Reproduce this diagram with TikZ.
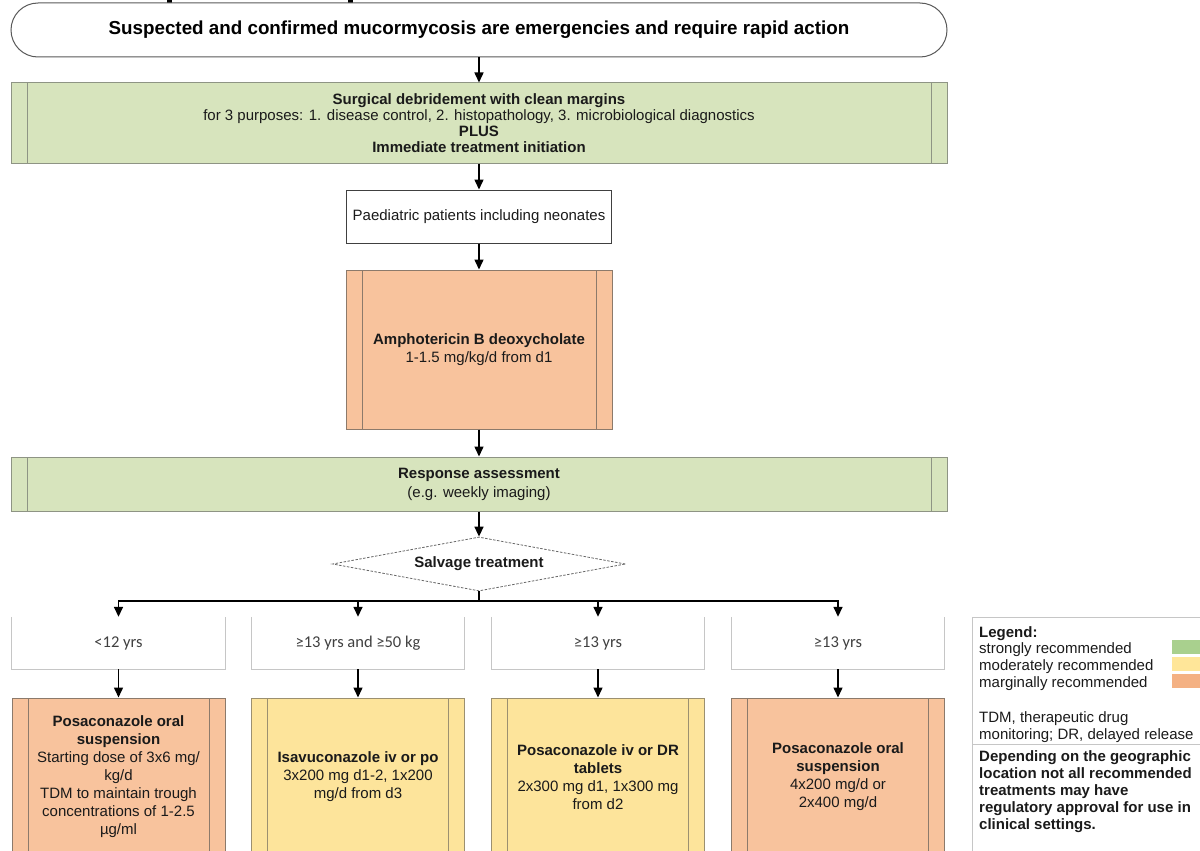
\documentclass[tikz,border=0pt]{standalone}
\usepackage{fontspec}
\setmainfont{Liberation Sans}
\newfontfamily\carl{Carlito}
\usetikzlibrary{arrows.meta,shapes.geometric}
\definecolor{gfill}{HTML}{D7E4BD}
\definecolor{ofill}{HTML}{F8C39D}
\definecolor{yfill}{HTML}{FDE49B}
\definecolor{gline}{HTML}{8E9484}
\definecolor{oline}{HTML}{8C7A6B}
\definecolor{yline}{HTML}{9C9070}
\definecolor{lgray}{HTML}{C6C6C6}
\definecolor{sg}{HTML}{A9D08E}
\definecolor{sy}{HTML}{FFE699}
\definecolor{so}{HTML}{F4B183}
\definecolor{txt}{HTML}{1A1A1A}
\tikzset{
  body/.style={font=\fontsize{15}{18}\selectfont, text=txt},
  arr/.style={-{Triangle[length=10pt,width=9pt]}, line width=1.5pt, black},
  titlebox/.style={draw=black!65, line width=1pt, fill=white, rounded corners=27pt, align=center, inner sep=0pt,
    font=\bfseries\fontsize{18.8}{22}\selectfont},
  plainbox/.style={body, draw=black!75, line width=1pt, fill=white, align=center, inner sep=0pt},
  procbox/.style={body, line width=1pt, align=center, inner sep=0pt,
    path picture={
      \draw[line width=1pt] ([xshift=#1]path picture bounding box.north west) -- ([xshift=#1]path picture bounding box.south west);
      \draw[line width=1pt] ([xshift=-#1]path picture bounding box.north east) -- ([xshift=-#1]path picture bounding box.south east);
    }},
  procbox/.default=16pt,
  agebox/.style={inner sep=0pt, minimum width=213pt, minimum height=52pt, text=black!75,
    font=\carl\fontsize{16.5}{20}\selectfont},
  drugbox/.style={procbox, minimum width=213pt, minimum height=158pt},
  ageline/.style={draw=lgray, line width=1pt},
  legtext/.style={body, anchor=base west, inner sep=0pt},
}
\begin{document}
\begin{tikzpicture}[x=1pt,y=-1pt]
\useasboundingbox (0,0) rectangle (1200,851);
\clip (0,0) rectangle (1200,851);
% cut-off title fragments
\fill[black] (167,0) rectangle (172,5);
\fill[black] (164,4.5) rectangle (176,6);
\fill[black] (348,0) rectangle (353,5);
\fill[black] (345,4.5) rectangle (357,6);

\node[titlebox, minimum width=936pt, minimum height=54pt] (top) at (479,30)
  {Suspected and confirmed mucormycosis are emergencies and require rapid action};
\node[procbox, fill=gfill, draw=gline, minimum width=936pt, minimum height=80pt,
  font=\fontsize{15}{15.8}\selectfont] (surg) at (479,123)
  {\textbf{Surgical debridement with clean margins}\\for 3 purposes: 1. disease control, 2. histopathology, 3. microbiological diagnostics\\\textbf{PLUS}\\\textbf{Immediate treatment initiation}};
\node[plainbox, minimum width=265pt, minimum height=53pt] (paed) at (479,216.5)
  {Paediatric patients including neonates};
\node[procbox, fill=ofill, draw=oline, minimum width=266pt, minimum height=159pt] (amph) at (479,349.5)
  {\textbf{Amphotericin B deoxycholate}\\1-1.5 mg/kg/d from d1};
\node[procbox, fill=gfill, draw=gline, minimum width=936pt, minimum height=54pt,
  font=\fontsize{15}{19}\selectfont] (resp) at (479,484)
  {\textbf{Response assessment}\\(e.g. weekly imaging)};
\node[diamond, draw=black!60, line width=0.8pt, dash pattern=on 2.5pt off 1.5pt, fill=white, aspect=5.43,
  minimum width=293pt, minimum height=54pt, inner sep=0pt, text=txt,
  font=\bfseries\fontsize{15}{18}\selectfont] (salv) at (479,564) {Salvage treatment};
\coordinate (j) at (479,601);

\node[agebox] (a1) at (118.5,643) {<12 yrs};
\node[agebox] (a2) at (358,643) {≥13 yrs and ≥50 kg};
\node[agebox] (a3) at (598,643) {≥13 yrs};
\node[agebox] (a4) at (838,643) {≥13 yrs};
\foreach \n in {a1,a2,a3,a4}{
  \draw[ageline] (\n.north west) -- (\n.south west) -- (\n.south east) -- (\n.north east);
}

\node[drugbox, fill=ofill, draw=oline] (d1) at (118.5,777)
  {\textbf{Posaconazole oral}\\\textbf{suspension}\\Starting dose of 3x6 mg/\\kg/d\\TDM to maintain trough\\concentrations of 1-2.5\\µg/ml};
\node[drugbox, fill=yfill, draw=yline] (d2) at (358,777)
  {\textbf{Isavuconazole iv or po}\\3x200 mg d1-2, 1x200\\mg/d from d3};
\node[drugbox, fill=yfill, draw=yline] (d3) at (598,777)
  {\textbf{Posaconazole iv or DR}\\\textbf{tablets}\\2x300 mg d1, 1x300 mg\\from d2};
\node[drugbox, fill=ofill, draw=oline] (d4) at (838,777)
  {\textbf{Posaconazole oral}\\\textbf{suspension}\\4x200 mg/d or\\2x400 mg/d};

% connectors
\draw[arr] (top.south) -- (surg.north);
\draw[arr] (surg.south) -- (paed.north);
\draw[arr] (paed.south) -- (amph.north);
\draw[arr] (amph.south) -- (resp.north);
\draw[arr] (resp.south) -- (salv.north);
\draw[line width=1.5pt] (salv.south) -- (j);
\foreach \n in {a1,a2,a3,a4}{
  \draw[arr] (j) -| (\n.north);
}
\draw[arr] (a1.south) -- (d1.north);
\draw[arr] (a2.south) -- (d2.north);
\draw[arr] (a3.south) -- (d3.north);
\draw[arr] (a4.south) -- (d4.north);

% legend
\draw[ageline] (1201,617) -- (972,617) -- (972,852);
\draw[ageline] (972,744) -- (1201,744);
\fill[sg] (1172,640) rectangle (1201,654);
\fill[sy] (1172,657) rectangle (1201,671);
\fill[so] (1172,674) rectangle (1201,688);
\node[legtext] (l1) at (979,637.3) {\textbf{Legend:}};
\node[legtext] (l2) at (979,653.3) {strongly recommended};
\node[legtext] (l3) at (979,670.3) {moderately recommended};
\node[legtext] (l4) at (979,687.3) {marginally recommended};
\node[legtext] (l5) at (979,722.3) {TDM, therapeutic drug};
\node[legtext] (l6) at (979,739.3) {monitoring; DR, delayed release};
\node[legtext] (l7) at (979,761.3) {\textbf{Depending on the geographic}};
\node[legtext] (l8) at (979,778.3) {\textbf{location not all recommended}};
\node[legtext] (l9) at (979,795.3) {\textbf{treatments may have}};
\node[legtext] (l10) at (979,812.3) {\textbf{regulatory approval for use in}};
\node[legtext] (l11) at (979,829.3) {\textbf{clinical settings.}};
\end{tikzpicture}
\end{document}
